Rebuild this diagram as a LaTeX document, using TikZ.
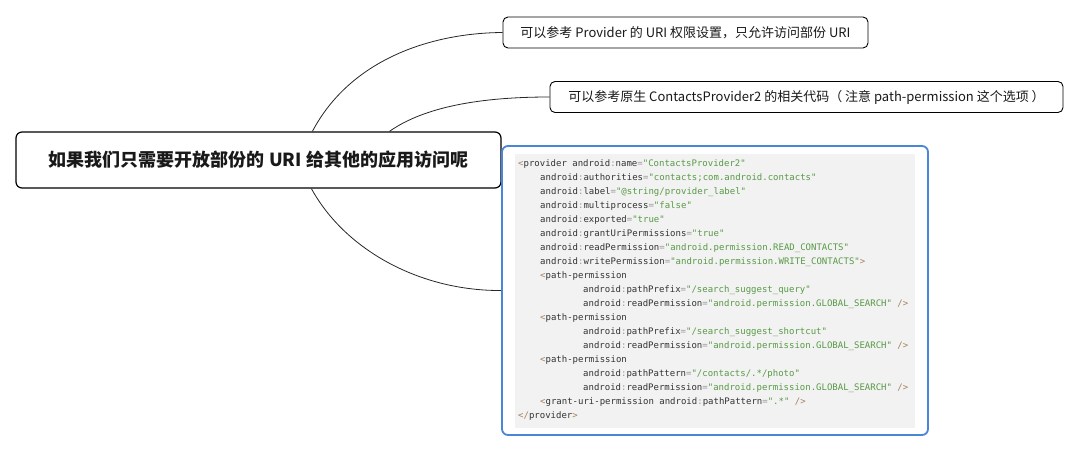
\documentclass[tikz,border=0pt]{standalone}
\usepackage{fontspec}
\setmainfont{Noto Sans CJK SC}
\newfontfamily\codefont{DejaVu Sans Mono}
\usetikzlibrary{calc}
\definecolor{punc}{RGB}{166,127,89}
\definecolor{opgrey}{RGB}{153,153,153}
\definecolor{valgreen}{RGB}{88,154,70}
\definecolor{codetext}{RGB}{51,51,51}
\definecolor{codebg}{RGB}{242,242,242}
\definecolor{selblue}{RGB}{74,134,216}
\newcommand\cpunc[1]{\textcolor{punc}{#1}}
\newcommand\cop[1]{\textcolor{opgrey}{#1}}
\newcommand\cval[1]{\textcolor{valgreen}{#1}}
\tikzset{
  rootbox/.style={draw=black, line width=1.2pt, rounded corners=6pt, fill=white,
    minimum width=485pt, minimum height=56pt, inner sep=0pt,
    font=\fontsize{18}{20}\selectfont\bfseries, text=black!90},
  leafbox/.style={draw=black, line width=0.9pt, rounded corners=5pt, fill=white,
    minimum height=31pt, inner sep=0pt, font=\fontsize{13}{15}\selectfont, text=black!90},
  codebox/.style={draw=selblue, line width=1.8pt, rounded corners=6pt, fill=white,
    minimum width=426pt, minimum height=289pt, inner sep=0pt},
  codeline/.style={anchor=base west, inner sep=0pt, text=codetext,
    font=\codefont\fontsize{9}{11}\selectfont},
  link/.style={draw=black!85, line width=0.8pt}
}
\begin{document}
\begin{tikzpicture}[x=1pt,y=-1pt]
\useasboundingbox (0,0) rectangle (1081,452);
\node[rootbox] (root) at (258.5,160) {如果我们只需要开放部份的 URI 给其他的应用访问呢};
\node[leafbox, minimum width=365pt] (n1) at (685.5,32.5) {可以参考 Provider 的 URI 权限设置，只允许访问部份 URI};
\node[leafbox, minimum width=513pt] (n2) at (806.5,97) {可以参考原生 ContactsProvider2 的相关代码（ 注意 path-permission 这个选项 ）};
\node[codebox] (code) at (715,290.5) {};
\fill[codebg] (515,154) rectangle (915,428);
\coordinate (s1) at ($(root.north west)+(297,0)$);
\coordinate (s2) at ($(root.north west)+(374,0)$);
\coordinate (s3) at ($(root.south west)+(296,0)$);
\draw[link] (s1) .. controls (350,60) and (430,33) .. (n1.west);
\draw[link] (s2) .. controls (420,110) and (470,97) .. (n2.west);
\draw[link] (s3) .. controls (345,250) and (420,291) .. (code.west);
\node[codeline] (l1) at (518,166.5) {\cpunc{<}provider android\cop{:}name\cop{=}\cval{"ContactsProvider2"}};
\node[codeline] (l2) at (540,180.5) {android\cop{:}authorities\cop{=}\cval{"contacts;com.android.contacts"}};
\node[codeline] (l3) at (540,194.5) {android\cop{:}label\cop{=}\cval{"@string/provider\_label"}};
\node[codeline] (l4) at (540,208.5) {android\cop{:}multiprocess\cop{=}\cval{"false"}};
\node[codeline] (l5) at (540,222.5) {android\cop{:}exported\cop{=}\cval{"true"}};
\node[codeline] (l6) at (540,236.5) {android\cop{:}grantUriPermissions\cop{=}\cval{"true"}};
\node[codeline] (l7) at (540,250.5) {android\cop{:}readPermission\cop{=}\cval{"android.permission.READ\_CONTACTS"}};
\node[codeline] (l8) at (540,264.5) {android\cop{:}writePermission\cop{=}\cval{"android.permission.WRITE\_CONTACTS"}\cpunc{>}};
\node[codeline] (l9) at (540,278.5) {\cpunc{<}path-permission};
\node[codeline] (l10) at (583,292.5) {android\cop{:}pathPrefix\cop{=}\cval{"/search\_suggest\_query"}};
\node[codeline] (l11) at (583,306.5) {android\cop{:}readPermission\cop{=}\cval{"android.permission.GLOBAL\_SEARCH"} \cpunc{/>}};
\node[codeline] (l12) at (540,320.5) {\cpunc{<}path-permission};
\node[codeline] (l13) at (583,334.5) {android\cop{:}pathPrefix\cop{=}\cval{"/search\_suggest\_shortcut"}};
\node[codeline] (l14) at (583,348.5) {android\cop{:}readPermission\cop{=}\cval{"android.permission.GLOBAL\_SEARCH"} \cpunc{/>}};
\node[codeline] (l15) at (540,362.5) {\cpunc{<}path-permission};
\node[codeline] (l16) at (583,376.5) {android\cop{:}pathPattern\cop{=}\cval{"/contacts/.*/photo"}};
\node[codeline] (l17) at (583,390.5) {android\cop{:}readPermission\cop{=}\cval{"android.permission.GLOBAL\_SEARCH"} \cpunc{/>}};
\node[codeline] (l18) at (540,404.5) {\cpunc{<}grant-uri-permission android\cop{:}pathPattern\cop{=}\cval{".*"} \cpunc{/>}};
\node[codeline] (l19) at (518,418.5) {\cpunc{</}provider\cpunc{>}};
\end{tikzpicture}
\end{document}
